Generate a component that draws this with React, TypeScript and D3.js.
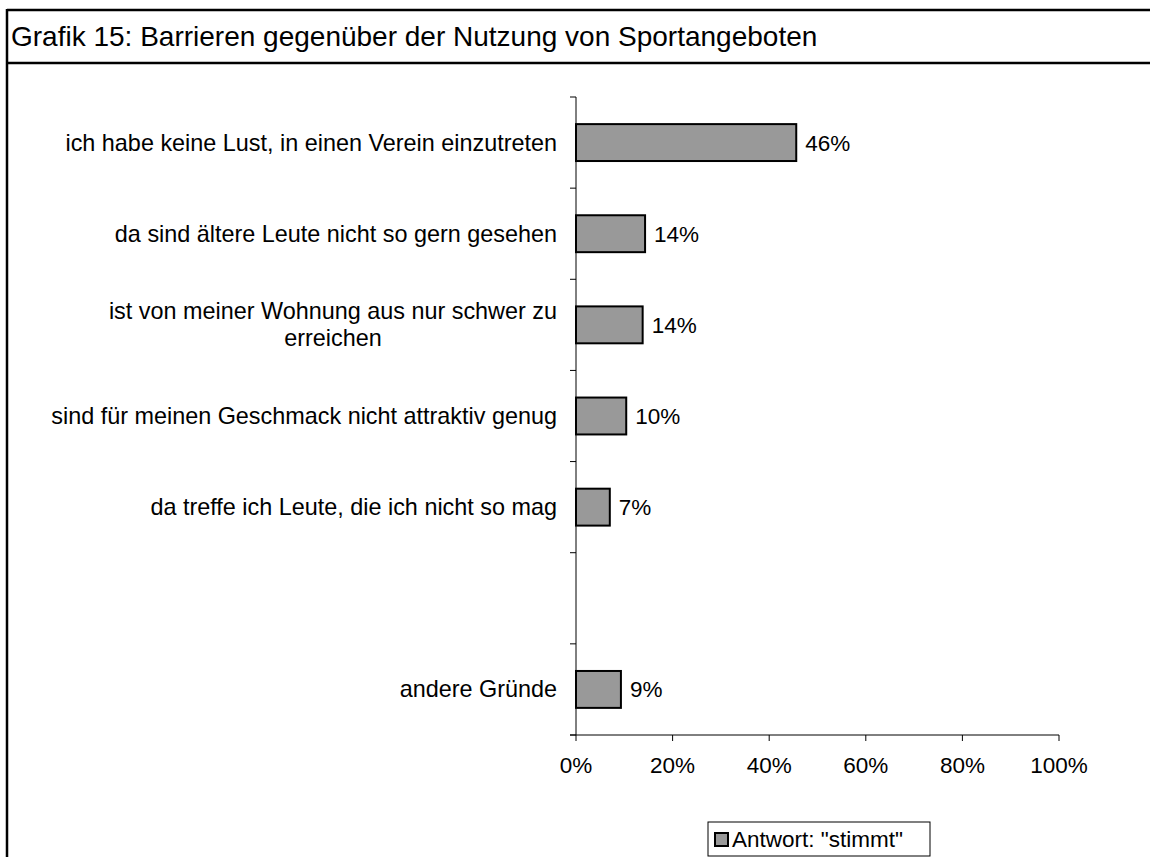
import { useEffect, useRef } from "react"
import * as d3 from "d3"

const categories = [
  "ich habe keine Lust, in einen Verein einzutreten",
  "da sind ältere Leute nicht so gern gesehen",
  "ist von meiner Wohnung aus nur schwer zu\nerreichen",
  "sind für meinen Geschmack nicht attraktiv genug",
  "da treffe ich Leute, die ich nicht so mag",
  "",
  "andere Gründe",
]
const values: (number | null)[] = [45.6, 14.3, 13.8, 10.4, 7.0, null, 9.3]
const xTicks = [0, 20, 40, 60, 80, 100]
const title = "Grafik 15: Barrieren gegenüber der Nutzung von Sportangeboten"
const legendLabel = 'Antwort: "stimmt"'

const FONT = "'Liberation Sans', Arial, sans-serif"

export default function App() {
  const svgRef = useRef<SVGSVGElement>(null)

  useEffect(() => {
    if (!svgRef.current) return
    const svg = d3.select(svgRef.current)
    svg.selectAll("*").remove()

    const width = 1150
    const height = 857
    const margin = { top: 97, left: 576, right: 91, bottom: 122 }
    const innerWidth = width - margin.left - margin.right
    const innerHeight = height - margin.top - margin.bottom

    // frame + title
    svg.append("rect").attr("width", width).attr("height", height).attr("fill", "white")
    svg.append("line").attr("x1", 7).attr("x2", width).attr("y1", 10).attr("y2", 10)
      .attr("stroke", "black").attr("stroke-width", 2.5)
    svg.append("line").attr("x1", 7).attr("x2", width).attr("y1", 63).attr("y2", 63)
      .attr("stroke", "black").attr("stroke-width", 2.5)
    svg.append("line").attr("x1", 7).attr("x2", 7).attr("y1", 9).attr("y2", height)
      .attr("stroke", "black").attr("stroke-width", 2.5)
    svg.append("text")
      .attr("x", 11)
      .attr("y", 46)
      .attr("font-size", "28px")
      .attr("font-family", FONT)
      .attr("fill", "black")
      .text(title)

    const x = d3.scaleLinear().domain([0, 100]).range([0, innerWidth])
    const y = d3.scaleBand().domain(categories.map((_, i) => String(i))).range([0, innerHeight]).padding(0)

    const g = svg.append("g").attr("transform", `translate(${margin.left},${margin.top})`)

    // y axis line + ticks at band edges
    g.append("line").attr("x1", 0).attr("x2", 0).attr("y1", 0).attr("y2", innerHeight)
      .attr("stroke", "black").attr("stroke-width", 1)
    g.selectAll("line.ytick")
      .data(d3.range(categories.length + 1))
      .join("line")
      .attr("class", "ytick")
      .attr("x1", -6).attr("x2", 0)
      .attr("y1", (d) => d * y.step())
      .attr("y2", (d) => d * y.step())
      .attr("stroke", "black")

    // x axis
    g.append("line").attr("x1", -6).attr("x2", innerWidth).attr("y1", innerHeight).attr("y2", innerHeight)
      .attr("stroke", "black").attr("stroke-width", 1)
    g.selectAll("line.xtick")
      .data(xTicks)
      .join("line")
      .attr("class", "xtick")
      .attr("x1", (d) => x(d)).attr("x2", (d) => x(d))
      .attr("y1", innerHeight).attr("y2", innerHeight + 6)
      .attr("stroke", "black")
    g.selectAll("text.xlab")
      .data(xTicks)
      .join("text")
      .attr("class", "xlab")
      .attr("x", (d) => x(d))
      .attr("y", innerHeight + 38)
      .attr("text-anchor", "middle")
      .attr("font-size", "22.5px")
      .attr("font-family", FONT)
      .text((d) => `${d}%`)

    // category labels (wrapped lines centred under the first line)
    categories.forEach((c, i) => {
      if (!c) return
      const lines = c.split("\n")
      const cy = (y(String(i)) || 0) + y.bandwidth() / 2
      const lh = 27
      const t = g.append("text")
        .attr("font-size", "23.4px")
        .attr("font-family", FONT)
        .attr("text-anchor", "end")
        .attr("x", -19)
        .attr("y", cy - ((lines.length - 1) * lh) / 2 + 8)
        .text(lines[0])
      if (lines.length > 1) {
        const w = (t.node() as SVGTextElement).getComputedTextLength()
        lines.slice(1).forEach((ln, k) => {
          g.append("text")
            .attr("font-size", "23.4px")
            .attr("font-family", FONT)
            .attr("text-anchor", "middle")
            .attr("x", -19 - w / 2)
            .attr("y", cy - ((lines.length - 1) * lh) / 2 + 8 + lh * (k + 1))
            .text(ln)
        })
      }
    })

    // bars
    const barH = y.bandwidth() * 0.405
    const barData = values.map((v, i) => ({ v, i })).filter((d) => d.v !== null) as { v: number; i: number }[]
    g.selectAll("rect.bar")
      .data(barData)
      .join("rect")
      .attr("class", "bar")
      .attr("x", 0)
      .attr("y", (d) => (y(String(d.i)) || 0) + (y.bandwidth() - barH) / 2)
      .attr("width", (d) => x(d.v))
      .attr("height", barH)
      .attr("fill", "#999999")
      .attr("stroke", "black")
      .attr("stroke-width", 2)

    g.selectAll("text.val")
      .data(barData)
      .join("text")
      .attr("class", "val")
      .attr("x", (d) => x(d.v) + 9)
      .attr("y", (d) => (y(String(d.i)) || 0) + y.bandwidth() / 2 + 8)
      .attr("font-size", "22.5px")
      .attr("font-family", FONT)
      .text((d) => `${Math.round(d.v)}%`)

    // legend
    const lg = svg.append("g").attr("transform", "translate(708,822)")
    lg.append("rect").attr("x", 0).attr("y", 0).attr("width", 222).attr("height", 34)
      .attr("fill", "white").attr("stroke", "black").attr("stroke-width", 1)
    lg.append("rect").attr("x", 7).attr("y", 11).attr("width", 13).attr("height", 13)
      .attr("fill", "#999999").attr("stroke", "black").attr("stroke-width", 2)
    lg.append("text")
      .attr("x", 24)
      .attr("y", 25)
      .attr("font-size", "22.5px")
      .attr("font-family", FONT)
      .text(legendLabel)
  }, [])

  return (
    <svg
      ref={svgRef}
      width={1150}
      height={857}
      style={{ position: "absolute", left: 0, top: 0 }}
    />
  )
}
